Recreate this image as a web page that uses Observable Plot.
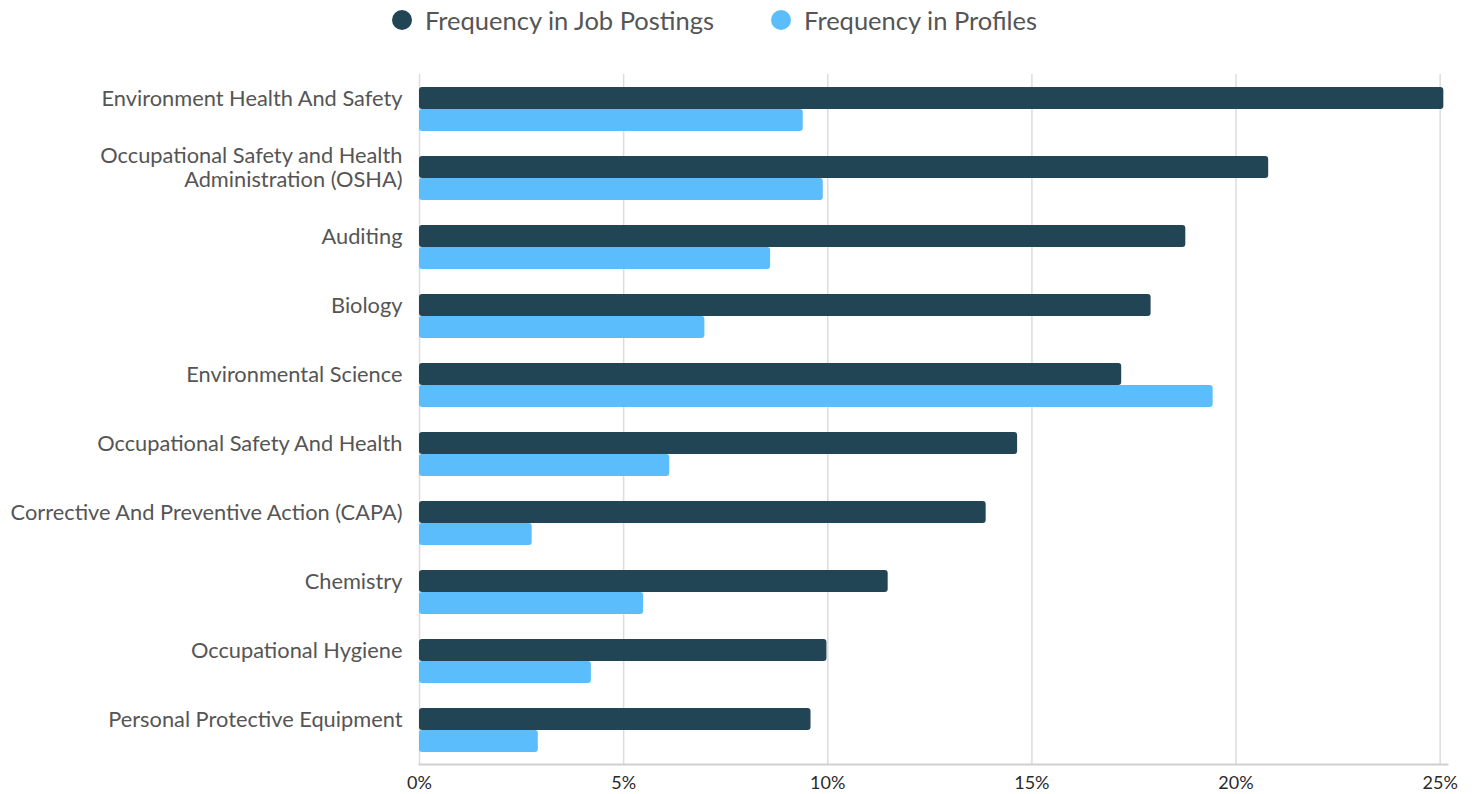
<!DOCTYPE html>
<html>
<head>
<meta charset="utf-8">
<script src="https://cdn.jsdelivr.net/npm/d3@7"></script>
<script src="https://cdn.jsdelivr.net/npm/@observablehq/plot@0.6"></script>
<style>
  html, body { margin: 0; padding: 0; background: #fff; font-family: Lato, "Open Sans", sans-serif; overflow: hidden; }
  #legend { height: 40px; display: flex; align-items: center; padding-left: 392px; box-sizing: border-box; }
  .item { display: flex; align-items: center; margin-right: 57px; font-size: 25.5px; color: #555; white-space: nowrap; }
  .dot { width: 20px; height: 20px; border-radius: 50%; margin-right: 13px; flex: none; }
  #chart svg { display: block; }
</style>
</head>
<body>
<div id="legend"></div>
<div id="chart"></div>
<script>
const skills = [
  "Environment Health And Safety",
  "Occupational Safety and Health Administration (OSHA)",
  "Auditing",
  "Biology",
  "Environmental Science",
  "Occupational Safety And Health",
  "Corrective And Preventive Action (CAPA)",
  "Chemistry",
  "Occupational Hygiene",
  "Personal Protective Equipment"
];
const skillLabels = [
  "Environment Health And Safety",
  "Occupational Safety and Health\nAdministration (OSHA)",
  "Auditing",
  "Biology",
  "Environmental Science",
  "Occupational Safety And Health",
  "Corrective And Preventive Action (CAPA)",
  "Chemistry",
  "Occupational Hygiene",
  "Personal Protective Equipment"
];
const jobPostings = [25.09, 20.8, 18.77, 17.92, 17.2, 14.65, 13.88, 11.48, 9.98, 9.59];
const profiles = [9.40, 9.89, 8.60, 6.99, 19.44, 6.13, 2.76, 5.49, 4.21, 2.91];
const series = ["Frequency in Job Postings", "Frequency in Profiles"];
const colors = ["#224556", "#5cbdfd"];
const xTicks = [0, 5, 10, 15, 20, 25];

const rows = [];
skills.forEach((s, i) => {
  rows.push({skill: s, series: series[0], value: jobPostings[i]});
  rows.push({skill: s, series: series[1], value: profiles[i]});
});
const labelOf = new Map(skills.map((s, i) => [s, skillLabels[i]]));

// legend
const legend = document.getElementById("legend");
series.forEach((s, i) => {
  const it = document.createElement("div");
  it.className = "item";
  const dot = document.createElement("span");
  dot.className = "dot";
  dot.style.background = colors[i];
  const t = document.createElement("span");
  t.textContent = s;
  it.appendChild(dot); it.appendChild(t);
  legend.appendChild(it);
});

const chart = Plot.plot({
  width: 1477,
  height: 754,
  marginTop: 31,
  marginBottom: 27,
  marginLeft: 419,
  marginRight: 30,
  style: {fontFamily: "Lato, 'Open Sans', sans-serif", background: "white"},
  x: {domain: [0, 25.18], ticks: xTicks, label: null},
  y: {domain: series, paddingInner: 0, paddingOuter: 0.515, axis: null},
  fy: {domain: skills, padding: 0, label: null, axis: null},
  color: {domain: series, range: colors},
  marks: [
    Plot.gridX({ticks: xTicks, stroke: "#dcdcdc", strokeOpacity: 1, strokeWidth: 1.5}),
    Plot.frame({anchor: "bottom", facetAnchor: "bottom", stroke: "#d0d0d0", strokeWidth: 2}),
    Plot.barX(rows, {fy: "skill", y: "series", x: "value", fill: "series", rx: 3}),
    Plot.axisX({ticks: xTicks, tickFormat: d => d + "%", tickSize: 0, tickPadding: 12, fontSize: 18, color: "#2a2a2a", label: null}),
    Plot.axisFy({anchor: "left", tickSize: 0, tickPadding: 17, fontSize: 21.8, lineHeight: 1.13, dy: -11, color: "#555", label: null, tickFormat: d => labelOf.get(d)})
  ]
});
document.getElementById("chart").appendChild(chart);
</script>
</body>
</html>
